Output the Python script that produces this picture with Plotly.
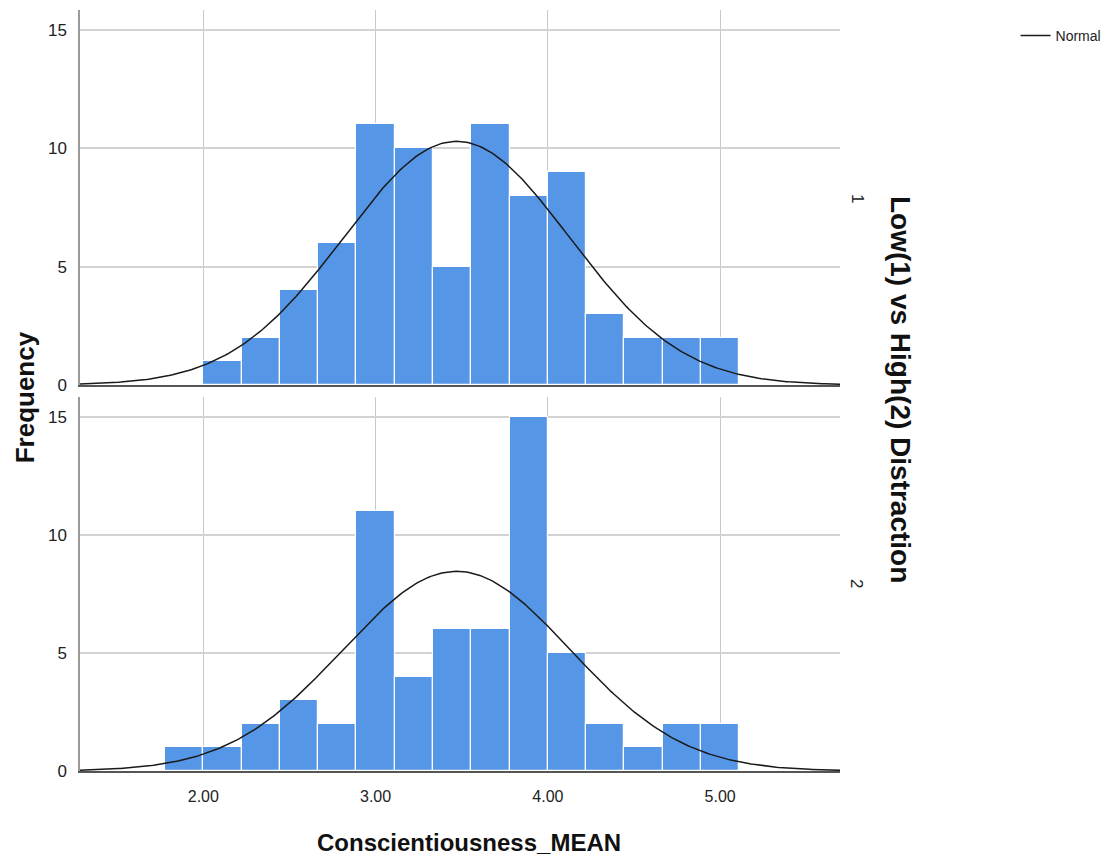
import numpy as np
import plotly.graph_objects as go

# ---- data ----
bin_start = 1.7778          # left edge of first bin
bin_width = 2.0 / 9.0       # width of each bin
counts_low = [0, 1, 2, 4, 6, 11, 10, 5, 11, 8, 9, 3, 2, 2, 2]     # group 1
counts_high = [1, 1, 2, 3, 2, 11, 4, 6, 6, 15, 5, 2, 1, 2, 2]     # group 2
mean_low, sd_low, n_low = 3.47, 0.655, 76
mean_high, sd_high, n_high = 3.47, 0.661, 63
x_ticks = [2, 3, 4, 5]
x_tick_labels = ["2.00", "3.00", "4.00", "5.00"]
y_ticks = [0, 5, 10, 15]
group_labels = ["1", "2"]

x_range = [1.284, 5.696]
y_range = [0, 15.83]

bin_centers = [bin_start + bin_width * (i + 0.5) for i in range(len(counts_low))]
xs = np.linspace(x_range[0], x_range[1], 300)


def normal_curve(mean, sd, n):
    return n * bin_width / (sd * np.sqrt(2 * np.pi)) * np.exp(-0.5 * ((xs - mean) / sd) ** 2)


BAR = "#5596E6"
FONT = "Liberation Sans, Arial, sans-serif"

fig = go.Figure()
for counts, (mean, sd, n), xa, ya, show in [
    (counts_low, (mean_low, sd_low, n_low), "x", "y", True),
    (counts_high, (mean_high, sd_high, n_high), "x2", "y2", False),
]:
    fig.add_trace(go.Bar(
        x=bin_centers, y=counts, width=bin_width,
        marker=dict(color=BAR, line=dict(color="white", width=1.2)),
        xaxis=xa, yaxis=ya, showlegend=False, hoverinfo="x+y",
    ))
    fig.add_trace(go.Scatter(
        x=xs, y=normal_curve(mean, sd, n), mode="lines",
        line=dict(color="#1a1a1a", width=1.5),
        name="Normal", xaxis=xa, yaxis=ya, showlegend=show,
        legendgroup="normal",
    ))

common_x = dict(
    range=x_range, tickvals=x_ticks, ticktext=x_tick_labels,
    showgrid=True, gridcolor="#c8c8c8", gridwidth=1.2,
    zeroline=False, showline=True, linecolor="#555555", linewidth=1.5,
    ticks="", tickfont=dict(family=FONT, size=16, color="#222222"),
    ticklabelstandoff=10,
)
common_y = dict(
    range=y_range, tickvals=y_ticks,
    showgrid=True, gridcolor="#d2d2d2", gridwidth=2,
    zeroline=False, showline=True, linecolor="#9a9a9a", linewidth=1.5,
    ticks="", tickfont=dict(family=FONT, size=17, color="#222222"),
    ticklabelstandoff=8,
)

# page body has an 8px default margin, so the figure is 8px smaller and offset
fig.update_layout(
    width=1107, height=856,
    margin=dict(l=72, r=275, t=2, b=93, autoexpand=False),
    paper_bgcolor="white", plot_bgcolor="white",
    bargap=0,
    font=dict(family=FONT, color="#111111"),
    xaxis=dict(common_x, domain=[0, 1], anchor="y", showticklabels=False),
    yaxis=dict(common_y, domain=[0.5072, 1], anchor="x"),
    xaxis2=dict(common_x, domain=[0, 1], anchor="y2", matches="x"),
    yaxis2=dict(common_y, domain=[0, 0.4915], anchor="x2"),
    legend=dict(x=1.231, y=0.966, xanchor="left", yanchor="middle",
                font=dict(family=FONT, size=14, color="#222222"),
                itemwidth=30, bgcolor="rgba(0,0,0,0)"),
    annotations=[
        dict(text="<b>Conscientiousness_MEAN</b>", xref="paper", yref="paper",
             x=0.512, y=-0.0946, xanchor="center", yanchor="middle", showarrow=False,
             font=dict(family=FONT, size=24, color="#111111")),
        dict(text="<b>Frequency</b>", xref="paper", yref="paper",
             x=-0.0724, y=0.491, xanchor="center", yanchor="middle", showarrow=False,
             textangle=-90, font=dict(family=FONT, size=26, color="#111111")),
        dict(text="<b>Low(1) vs High(2) Distraction</b>", xref="paper", yref="paper",
             x=1.079, y=0.502, xanchor="center", yanchor="middle", showarrow=False,
             textangle=90, font=dict(family=FONT, size=28, color="#111111")),
        dict(text=group_labels[0], xref="paper", yref="paper",
             x=1.0224, y=0.753, xanchor="center", yanchor="middle", showarrow=False,
             textangle=90, font=dict(family=FONT, size=17, color="#222222")),
        dict(text=group_labels[1], xref="paper", yref="paper",
             x=1.0224, y=0.247, xanchor="center", yanchor="middle", showarrow=False,
             textangle=90, font=dict(family=FONT, size=17, color="#222222")),
    ],
)

fig.write_html("out.html")
